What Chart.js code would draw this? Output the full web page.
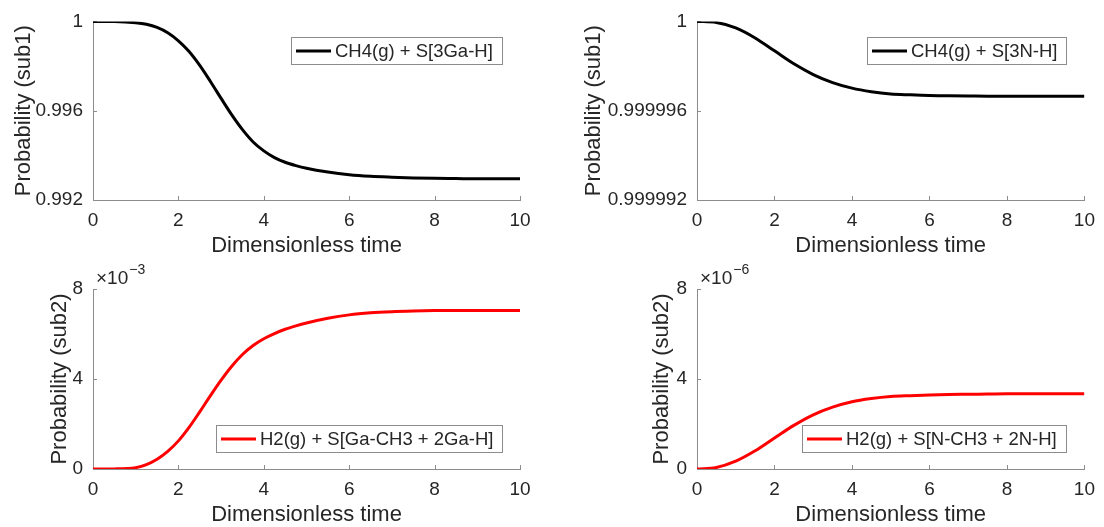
<!DOCTYPE html>
<html>
<head>
<meta charset="utf-8">
<script src="https://cdn.jsdelivr.net/npm/chart.js@4.4.1/dist/chart.umd.min.js"></script>
<style>
  html, body { margin: 0; padding: 0; background: #fff; }
  #fig { position: relative; width: 1104px; height: 527px; overflow: hidden; background: #fff; }
  #fig canvas { position: absolute; }
</style>
</head>
<body>
<div id="fig">
  <canvas id="gaSub1Chart" width="552" height="258" style="left:0px;top:0px"></canvas>
  <canvas id="nSub1Chart" width="552" height="258" style="left:552px;top:0px"></canvas>
  <canvas id="gaSub2Chart" width="552" height="269" style="left:0px;top:258px"></canvas>
  <canvas id="nSub2Chart" width="552" height="269" style="left:552px;top:258px"></canvas>
</div>
<script>
// Dimensionless time samples (denser through the Ga transition)
const gaTime = [0, 0.5, 1, 1.25, 1.5, 1.75, 2, 2.25, 2.5, 2.75, 3, 3.25, 3.5, 3.75, 4, 4.25, 4.5, 4.75, 5,
                5.5, 6, 6.5, 7, 7.5, 8, 8.5, 9, 9.5, 10];
const nTime = [0, 0.5, 1, 1.5, 2, 2.5, 3, 3.5, 4, 4.5, 5, 5.5, 6, 6.5, 7, 7.5, 8, 8.5, 9, 9.5, 10];

// Probability of sub1: CH4(g) + S[3Ga-H]
const gaSub1 = [1, 0.999995, 0.99994, 0.99987, 0.99973, 0.99949, 0.99913, 0.99865, 0.99803, 0.99731,
                0.99655, 0.99581, 0.99515, 0.99460, 0.99420, 0.99390, 0.99369, 0.99354, 0.99342,
                0.99325, 0.99313, 0.99306, 0.99302, 0.99299, 0.99297, 0.99296, 0.99295, 0.99295, 0.99295];

// Probability of sub2: H2(g) + S[Ga-CH3 + 2Ga-H]
const gaSub2 = [0, 0.005e-3, 0.06e-3, 0.19e-3, 0.43e-3, 0.78e-3, 1.25e-3, 1.85e-3, 2.54e-3, 3.26e-3,
                3.95e-3, 4.57e-3, 5.09e-3, 5.49e-3, 5.79e-3, 6.02e-3, 6.21e-3, 6.36e-3, 6.49e-3,
                6.70e-3, 6.85e-3, 6.94e-3, 6.99e-3, 7.02e-3, 7.04e-3, 7.05e-3, 7.05e-3, 7.05e-3, 7.05e-3];

// Probability of sub1: CH4(g) + S[3N-H]
const nSub1 = [1, 0.99999995, 0.99999971, 0.99999926, 0.99999868, 0.9999981, 0.99999762, 0.99999726,
               0.99999701, 0.99999685, 0.99999675, 0.99999671, 0.99999668, 0.99999667, 0.99999666,
               0.99999665, 0.99999665, 0.99999665, 0.99999665, 0.99999665, 0.99999665];

// Probability of sub2: H2(g) + S[N-CH3 + 2N-H]
const nSub2 = [0, 0.07e-6, 0.35e-6, 0.81e-6, 1.38e-6, 1.94e-6, 2.41e-6, 2.75e-6, 2.99e-6, 3.13e-6,
               3.22e-6, 3.26e-6, 3.29e-6, 3.31e-6, 3.32e-6, 3.33e-6, 3.34e-6, 3.34e-6, 3.34e-6, 3.34e-6, 3.34e-6];

// Series names
const gaSub1Label = 'CH4(g) + S[3Ga-H]';
const nSub1Label = 'CH4(g) + S[3N-H]';
const gaSub2Label = 'H2(g) + S[Ga-CH3 + 2Ga-H]';
const nSub2Label = 'H2(g) + S[N-CH3 + 2N-H]';

// Axis ticks and their labels
const timeTicks = [0, 2, 4, 6, 8, 10];
const timeTickLabels = ['0', '2', '4', '6', '8', '10'];
const gaSub1Ticks = [0.992, 0.996, 1];
const gaSub1TickLabels = ['0.992', '0.996', '1'];
const nSub1Ticks = [0.999992, 0.999996, 1];
const nSub1TickLabels = ['0.999992', '0.999996', '1'];
const gaSub2Ticks = [0, 0.004, 0.008];
const gaSub2TickLabels = ['0', '4', '8'];
const nSub2Ticks = [0, 4e-6, 8e-6];
const nSub2TickLabels = ['0', '4', '8'];

const FONT = '"Liberation Sans", Arial, sans-serif';
const TEXT = '#262626';
const AXIS = '#8c8c8c';

Chart.defaults.font.family = FONT;
Chart.defaults.color = TEXT;

// Inward tick marks, boxed legend and the axis multiplier
const decor = {
  id: 'decor',
  beforeDatasetsDraw(chart) {
    const { ctx, chartArea: a, scales } = chart;
    ctx.save();
    ctx.strokeStyle = AXIS;
    ctx.lineWidth = 1;
    ctx.beginPath();
    scales.x.ticks.forEach(t => {
      const px = Math.round(scales.x.getPixelForValue(t.value)) + 0.5;
      ctx.moveTo(px, a.bottom);
      ctx.lineTo(px, a.bottom - 4);
    });
    scales.y.ticks.forEach(t => {
      const py = Math.round(scales.y.getPixelForValue(t.value)) + 0.5;
      ctx.moveTo(a.left, py);
      ctx.lineTo(a.left + 4, py);
    });
    ctx.stroke();
    ctx.restore();
  },
  afterDraw(chart, args, opts) {
    const { ctx, chartArea: a } = chart;
    const ds = chart.data.datasets[0];
    ctx.save();
    // legend
    ctx.font = '18.5px ' + FONT;
    const tw = ctx.measureText(ds.label).width;
    const boxH = 27;
    const boxW = Math.round(44 + tw + 9);
    const right = Math.round(a.right - 18);
    const left = right - boxW;
    const top = opts.legendAt === 'top' ? Math.round(a.top + 16) : Math.round(a.bottom - 17 - boxH);
    ctx.fillStyle = '#fff';
    ctx.fillRect(left, top, boxW, boxH);
    ctx.strokeStyle = AXIS;
    ctx.lineWidth = 1;
    ctx.strokeRect(left + 0.5, top + 0.5, boxW, boxH);
    ctx.strokeStyle = ds.borderColor;
    ctx.lineWidth = ds.borderWidth;
    ctx.beginPath();
    ctx.moveTo(left + 5, top + boxH / 2 + 0.5);
    ctx.lineTo(left + 40, top + boxH / 2 + 0.5);
    ctx.stroke();
    ctx.fillStyle = TEXT;
    ctx.textBaseline = 'middle';
    ctx.textAlign = 'left';
    ctx.fillText(ds.label, left + 44, top + boxH / 2 + 1);
    // multiplier above the y axis
    if (opts.exponent) {
      ctx.textBaseline = 'alphabetic';
      ctx.font = '19px ' + FONT;
      const base = '\u00d710';
      ctx.fillText(base, a.left + 3, a.top - 5);
      const bw = ctx.measureText(base).width;
      ctx.font = '14px ' + FONT;
      ctx.fillText(opts.exponent, a.left + 3 + bw + 1, a.top - 15);
    }
    ctx.restore();
  }
};

function makeChart(id, p) {
  const points = p.time.map((t, i) => ({ x: t, y: p.values[i] }));
  return new Chart(document.getElementById(id), {
    type: 'line',
    data: {
      datasets: [{
        label: p.label,
        data: points,
        borderColor: p.color,
        borderWidth: 3,
        pointRadius: 0,
        fill: false,
        cubicInterpolationMode: 'monotone'
      }]
    },
    plugins: [decor],
    options: {
      responsive: false,
      animation: false,
      devicePixelRatio: 1,
      events: [],
      layout: { padding: { top: p.padTop, right: p.padRight, bottom: 0, left: 0 } },
      plugins: {
        legend: { display: false },
        tooltip: { enabled: false },
        decor: { legendAt: p.legendAt, exponent: p.exponent }
      },
      scales: {
        x: {
          type: 'linear',
          min: 0,
          max: 10,
          afterBuildTicks: s => { s.ticks = timeTicks.map(v => ({ value: v })); },
          afterFit: s => { s.height = 58; },
          grid: { display: false, drawTicks: false },
          border: { display: true, color: AXIS, width: 1 },
          ticks: {
            padding: 9,
            maxRotation: 0,
            font: { size: 19 },
            color: TEXT,
            callback: (v, i) => timeTickLabels[i]
          },
          title: {
            display: true,
            text: 'Dimensionless time',
            font: { size: 22, lineHeight: 1.1 },
            color: TEXT,
            padding: { top: 0, bottom: 0 }
          }
        },
        y: {
          type: 'linear',
          min: p.ticks[0],
          max: p.ticks[p.ticks.length - 1],
          afterBuildTicks: s => { s.ticks = p.ticks.map(v => ({ value: v })); },
          afterFit: s => { s.width = p.axisWidth; },
          grid: { display: false, drawTicks: false },
          border: { display: true, color: AXIS, width: 1 },
          ticks: {
            padding: 10,
            font: { size: 19 },
            color: TEXT,
            callback: (v, i) => p.tickLabels[i]
          },
          title: {
            display: true,
            text: p.yTitle,
            font: { size: 22 },
            color: TEXT,
            padding: { top: p.titlePad, bottom: 0 }
          }
        }
      }
    }
  });
}

makeChart('gaSub1Chart', {
  time: gaTime, values: gaSub1, label: gaSub1Label, color: '#000000',
  ticks: gaSub1Ticks, tickLabels: gaSub1TickLabels,
  yTitle: 'Probability (sub1)', axisWidth: 93, titlePad: 11,
  padTop: 19, padRight: 32, legendAt: 'top', exponent: null
});
makeChart('nSub1Chart', {
  time: nTime, values: nSub1, label: nSub1Label, color: '#000000',
  ticks: nSub1Ticks, tickLabels: nSub1TickLabels,
  yTitle: 'Probability (sub1)', axisWidth: 145, titlePad: 29,
  padTop: 19, padRight: 16, legendAt: 'top', exponent: null
});
makeChart('gaSub2Chart', {
  time: gaTime, values: gaSub2, label: gaSub2Label, color: '#ff0000',
  ticks: gaSub2Ticks, tickLabels: gaSub2TickLabels,
  yTitle: 'Probability (sub2)', axisWidth: 93, titlePad: 47,
  padTop: 31, padRight: 32, legendAt: 'bottom', exponent: '\u22123'
});
makeChart('nSub2Chart', {
  time: nTime, values: nSub2, label: nSub2Label, color: '#ff0000',
  ticks: nSub2Ticks, tickLabels: nSub2TickLabels,
  yTitle: 'Probability (sub2)', axisWidth: 145, titlePad: 97,
  padTop: 31, padRight: 16, legendAt: 'bottom', exponent: '\u22126'
});
</script>
</body>
</html>
